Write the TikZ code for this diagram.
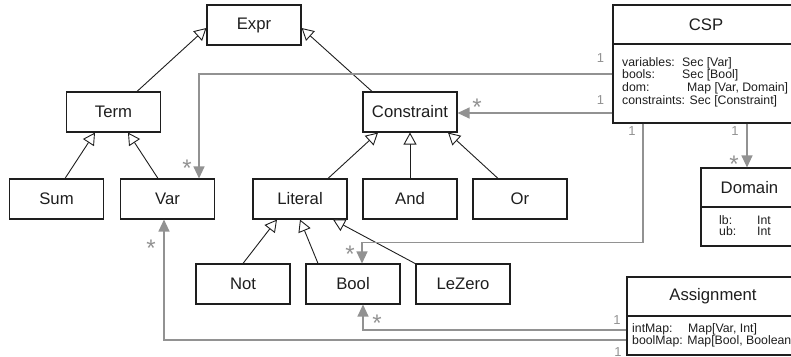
\documentclass[tikz,border=0pt]{standalone}
\usepackage{fontspec}
\setmainfont{Liberation Sans}
\usetikzlibrary{arrows.meta,calc}
\definecolor{assoc}{RGB}{146,146,146}
\definecolor{ink}{RGB}{30,30,30}
\tikzset{
  cls/.style={draw=ink, line width=1.1pt, minimum width=94pt, minimum height=40pt,
              inner sep=0pt, font=\fontsize{16.7}{18}\selectfont, text=ink},
  big/.style={draw=ink, line width=1.1pt, inner sep=0pt},
  title/.style={inner sep=0pt, font=\fontsize{16.7}{18}\selectfont, text=ink},
  attr/.style={inner sep=0pt, anchor=base west, font=\fontsize{12.3}{13}\selectfont, text=ink},
  inherit/.style={draw=ink, line width=0.9pt,
                  -{Triangle[open, length=12pt, width=13pt, fill=white]}},
  assocline/.style={draw=assoc, line width=1.2pt,
                    -{Triangle[length=12pt, width=11pt]}},
  many/.style={inner sep=0pt, text=assoc, font=\fontsize{24}{24}\selectfont},
  one/.style={inner sep=0pt, text=assoc, font=\fontsize{13}{13}\selectfont},
}
\begin{document}
\begin{tikzpicture}[x=1pt, y=-1pt]
\useasboundingbox (0,0) rectangle (791,356);

% class boxes
\node[cls] (expr)       at (254,25)    {Expr};
\node[cls] (term)       at (113.5,112) {Term};
\node[cls] (constraint) at (410,112)   {Constraint};
\node[cls] (sum)        at (56.5,199)  {Sum};
\node[cls] (var)        at (167.5,199) {Var};
\node[cls] (literal)    at (300,199)   {Literal};
\node[cls] (and)        at (410,199)   {And};
\node[cls] (or)         at (520,199)   {Or};
\node[cls] (not)        at (243,284)   {Not};
\node[cls] (bool)       at (353,284)   {Bool};
\node[cls] (lezero)     at (463,284)   {LeZero};

% CSP class with attributes
\node[big, minimum width=186pt, minimum height=118pt] (csp) at (706,64) {};
\draw[draw=ink, line width=1.1pt] (csp.west |- 0,44) -- (csp.east |- 0,44);
\node[title] (csptitle) at (706,24.5) {CSP};
\node[attr] (cspa1) at (622,66)    {variables:};
\node[attr] (cspb1) at (682,66)    {Sec [Var]};
\node[attr] (cspa2) at (622,78.7)  {bools:};
\node[attr] (cspb2) at (682,78.7)  {Sec [Bool]};
\node[attr] (cspa3) at (622,91.4)  {dom:};
\node[attr] (cspb3) at (687,91.4)  {Map [Var, Domain]};
\node[attr] (cspa4) at (622,104.1) {constraints: Sec [Constraint]};

% Domain class
\node[big, minimum width=96pt, minimum height=78pt] (domain) at (749,207) {};
\draw[draw=ink, line width=1.1pt] (domain.west) -- (domain.east);
\node[title] (domtitle) at (749.5,187.5) {Domain};
\node[attr] (doma1) at (719,224) {lb:};
\node[attr] (domb1) at (757,224) {Int};
\node[attr] (doma2) at (719,235.5) {ub:};
\node[attr] (domb2) at (757,235.5) {Int};

% Assignment class
\node[big, minimum width=172pt, minimum height=78pt] (asg) at (713,316) {};
\draw[draw=ink, line width=1.1pt] (asg.west) -- (asg.east);
\node[title] (asgtitle) at (713,296.5) {Assignment};
\node[attr] (asga1) at (632,332) {intMap:};
\node[attr] (asgb1) at (688,332) {Map[Var, Int]};
\node[attr] (asga2) at (632,344) {boolMap: Map[Bool, Boolean]};

% generalisations
\draw[inherit] ([xshift=23.5pt]term.north)      -- ([yshift=-3pt]expr.west);
\draw[inherit] ([xshift=-38pt]constraint.north) -- ([yshift=-3pt]expr.east);
\draw[inherit] ([xshift=8.5pt]sum.north)        -- ([xshift=-18.5pt]term.south);
\draw[inherit] ([xshift=-9.5pt]var.north)       -- ([xshift=14.5pt]term.south);
\draw[inherit] ([xshift=28pt]literal.north)     -- ([xshift=-32pt]constraint.south);
\draw[inherit] (and.north)                      -- (constraint.south);
\draw[inherit] ([xshift=-22pt]or.north)         -- ([xshift=38pt]constraint.south);
\draw[inherit] (not.north)                      -- ([xshift=-23pt]literal.south);
\draw[inherit] ([xshift=-35pt]bool.north)       -- (literal.south);
\draw[inherit] ([xshift=-48pt]lezero.north)     -- ([xshift=33pt]literal.south);

% associations
\draw[assocline] ([yshift=-10pt]csp.west) -| ([xshift=31.5pt]var.north);
\draw[assocline] ([yshift=-49pt]csp.west) -- ([yshift=-1pt]constraint.east);
\draw[assocline] ([xshift=-63pt]csp.south) -- ++(0,119) -| ([xshift=9pt]bool.north);
\draw[assocline] ([xshift=41pt]csp.south) -- ([xshift=-2pt]domain.north);
\draw[assocline] ([yshift=-14pt]asg.west) -| ([xshift=10pt]bool.south);
\draw[assocline] ([yshift=-24pt]asg.west) -| ([xshift=-3.5pt]var.south);

% multiplicities
\node[one]  (m1) at (600.5,58)  {1};
\node[one]  (m2) at (600.5,100) {1};
\node[one]  (m3) at (632,131)   {1};
\node[one]  (m4) at (735,131)   {1};
\node[one]  (m5) at (617,320)   {1};
\node[one]  (m6) at (618,352)   {1};
\node[many] (s1) at (187,168)   {*};
\node[many] (s2) at (477,107)   {*};
\node[many] (s3) at (734,164)   {*};
\node[many] (s4) at (350,254)   {*};
\node[many] (s5) at (377,323)   {*};
\node[many] (s6) at (151,248)   {*};
\end{tikzpicture}
\end{document}
